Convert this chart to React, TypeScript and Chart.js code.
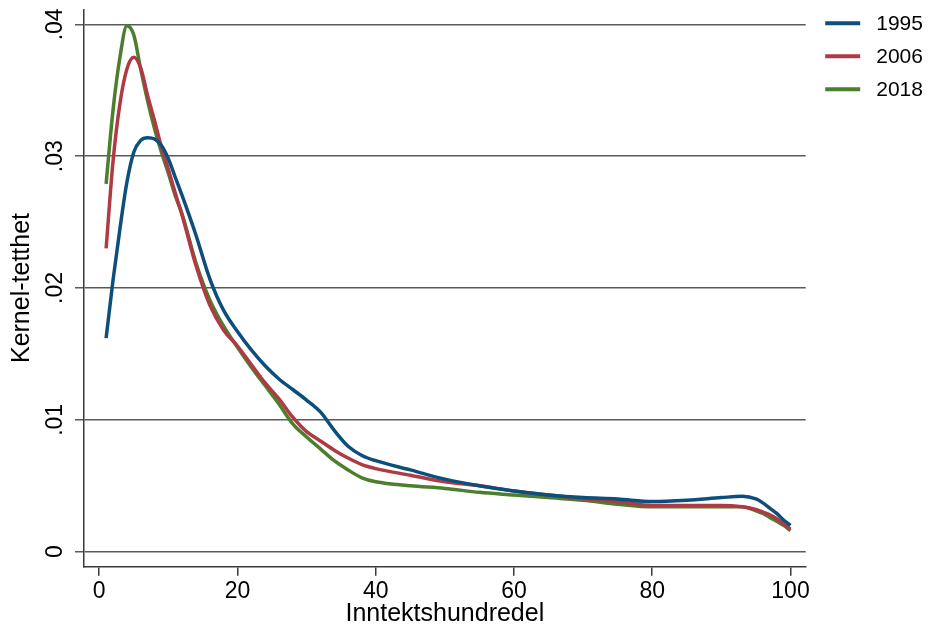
import { useEffect, useRef } from "react";
import { Chart, registerables } from "chart.js";

Chart.register(...registerables);

const FONT = '"Liberation Sans", Arial, Helvetica, sans-serif';

const percentiles = [1, 2, 3, 4, 5, 6, 7, 8, 9, 10, 11, 12, 14, 16, 18, 20, 22, 24, 26, 28, 30, 32, 34, 36, 38, 40, 45, 50, 55, 60, 65, 70, 75, 80, 85, 90, 93, 95, 96, 97, 98, 99, 100];

const density1995 = [0.0162, 0.0206, 0.0245, 0.028, 0.0303, 0.0312, 0.0314, 0.0313, 0.0308, 0.0298, 0.0284, 0.027, 0.024, 0.0207, 0.0183, 0.0167, 0.0153, 0.0141, 0.0131, 0.0123, 0.0115, 0.0106, 0.0092, 0.008, 0.0073, 0.0069, 0.0062, 0.0055, 0.005, 0.0046, 0.0043, 0.0041, 0.004, 0.0038, 0.0039, 0.0041, 0.0042, 0.004, 0.0037, 0.0033, 0.0029, 0.0024, 0.002];

const density2006 = [0.023, 0.0296, 0.034, 0.0366, 0.0375, 0.0367, 0.0346, 0.0327, 0.0307, 0.029, 0.0272, 0.0255, 0.0217, 0.0187, 0.0168, 0.0156, 0.0142, 0.0128, 0.0116, 0.0102, 0.0091, 0.0084, 0.0077, 0.0071, 0.0066, 0.0063, 0.0058, 0.0053, 0.005, 0.0046, 0.0043, 0.004, 0.0038, 0.0035, 0.0035, 0.0035, 0.0034, 0.0032, 0.003, 0.0028, 0.0025, 0.0021, 0.0017];

const density2018 = [0.0279, 0.0335, 0.0375, 0.0399, 0.0392, 0.0366, 0.0342, 0.0321, 0.0303, 0.0287, 0.027, 0.0256, 0.0219, 0.0191, 0.0171, 0.0155, 0.014, 0.0126, 0.0112, 0.0097, 0.0087, 0.0078, 0.0069, 0.0062, 0.0056, 0.0053, 0.005, 0.0048, 0.0045, 0.0043, 0.0041, 0.0039, 0.0036, 0.0034, 0.0034, 0.0034, 0.0034, 0.0031, 0.0029, 0.0026, 0.0023, 0.002, 0.0016];

const seriesLabels = ["1995", "2006", "2018"];
const seriesColors = ["#0d4f7c", "#b03a44", "#4b7f2c"];

const xTicks = [0, 20, 40, 60, 80, 100];
const xTickLabels = ["0", "20", "40", "60", "80", "100"];
const yTicks = [0, 0.01, 0.02, 0.03, 0.04];
const yTickLabels = ["0", ".01", ".02", ".03", ".04"];

const xTitle = "Inntektshundredel";
const yTitle = "Kernel-tetthet";

const legendPlugin = {
  id: "stataLegend",
  afterDraw(chart: any) {
    const { ctx, chartArea } = chart;
    ctx.save();
    chart.data.datasets.forEach((ds: any, i: number) => {
      const y = 23.3 + i * 33;
      const x0 = chartArea.right + 19.5;
      ctx.strokeStyle = ds.borderColor;
      ctx.lineWidth = 4;
      ctx.lineCap = "butt";
      ctx.beginPath();
      ctx.moveTo(x0, y);
      ctx.lineTo(x0 + 35, y);
      ctx.stroke();
      ctx.fillStyle = "#000";
      ctx.font = `21px ${FONT}`;
      ctx.textBaseline = "middle";
      ctx.textAlign = "left";
      ctx.fillText(ds.label, x0 + 51, y + 1);
    });
    ctx.restore();
  },
};

export default function App() {
  const canvasRef = useRef<HTMLCanvasElement | null>(null);

  useEffect(() => {
    if (!canvasRef.current) return;
    const seriesData = [density1995, density2006, density2018];
    const chart = new Chart(canvasRef.current, {
      type: "line",
      data: {
        datasets: seriesData.map((vals, i) => ({
          label: seriesLabels[i],
          data: percentiles.map((p, j) => ({ x: p, y: vals[j] })),
          borderColor: seriesColors[i],
          backgroundColor: seriesColors[i],
          borderWidth: 3.5,
          pointRadius: 0,
          fill: false,
          cubicInterpolationMode: "monotone" as const,
        })),
      },
      options: {
        animation: false,
        responsive: false,
        devicePixelRatio: 1,
        layout: { padding: { top: 9.3, right: 123.3, left: 0, bottom: 0 } },
        plugins: {
          legend: { display: false },
          tooltip: { enabled: false },
        },
        scales: {
          x: {
            type: "linear",
            min: -2.2,
            max: 102.2,
            afterBuildTicks: (s: any) => {
              s.ticks = xTicks.map((v) => ({ value: v }));
            },
            afterFit: (s: any) => {
              s.height = 64.3;
              s.paddingLeft = 0;
              s.paddingRight = 0;
            },
            grid: {
              drawOnChartArea: false,
              drawTicks: true,
              tickLength: 9,
              color: "#3a3a3a",
              lineWidth: 1.5,
            },
            border: { display: true, color: "#3a3a3a", width: 1.5 },
            ticks: {
              font: { size: 23, family: FONT },
              color: "#000",
              padding: 2,
              minRotation: 0,
              maxRotation: 0,
              autoSkip: false,
              callback: (v: any) => {
                const idx = xTicks.indexOf(Number(v));
                return idx >= 0 ? xTickLabels[idx] : "";
              },
            },
            title: {
              display: true,
              text: xTitle,
              font: { size: 25, family: FONT },
              color: "#000",
              padding: { top: 0, bottom: 2 },
            },
          },
          y: {
            type: "linear",
            min: -0.00114,
            max: 0.04114,
            afterBuildTicks: (s: any) => {
              s.ticks = yTicks.map((v) => ({ value: v }));
            },
            afterFit: (s: any) => {
              s.width = 84;
              s.paddingTop = 0;
              s.paddingBottom = 0;
            },
            grid: {
              drawTicks: true,
              tickLength: 9,
              color: "#5a5a5a",
              lineWidth: 1.5,
            },
            border: { display: true, color: "#3a3a3a", width: 1.5 },
            ticks: {
              font: { size: 23, family: FONT },
              color: "#000",
              padding: 3,
              minRotation: 90,
              maxRotation: 90,
              crossAlign: "center",
              autoSkip: false,
              callback: (v: any) => {
                const idx = yTicks.findIndex((t) => Math.abs(t - Number(v)) < 1e-9);
                return idx >= 0 ? yTickLabels[idx] : "";
              },
            },
            title: {
              display: true,
              text: yTitle,
              font: { size: 25, family: FONT },
              color: "#000",
              padding: { top: 7, bottom: 0 },
            },
          },
        },
      },
      plugins: [legendPlugin],
    } as any);
    return () => chart.destroy();
  }, []);

  return (
    <div style={{ position: "fixed", left: 0, top: 0, width: 929, height: 631, background: "#fff" }}>
      <canvas ref={canvasRef} width={929} height={631} style={{ display: "block" }} />
    </div>
  );
}
